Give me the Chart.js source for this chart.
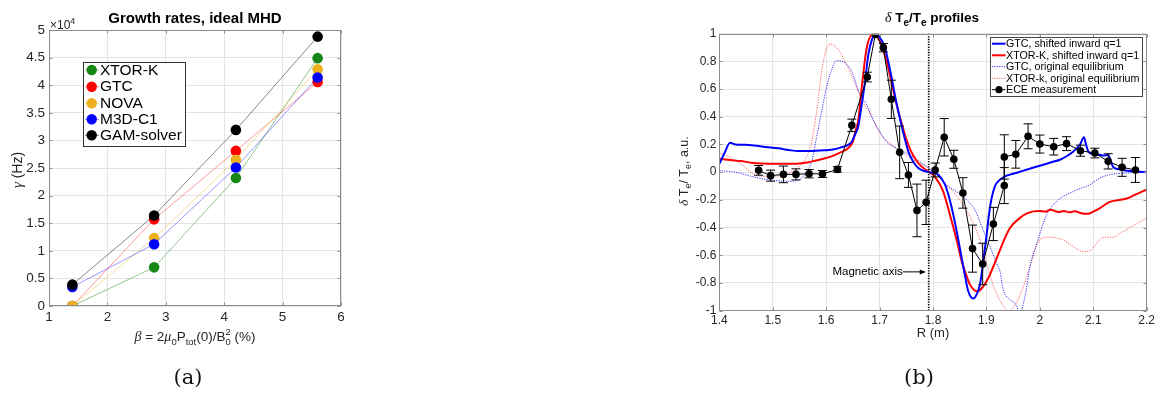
<!DOCTYPE html>
<html>
<head>
<meta charset="utf-8">
<script src="https://cdn.jsdelivr.net/npm/chart.js@4/dist/chart.umd.min.js"></script>
<style>
html,body{margin:0;padding:0;background:#fff;overflow:hidden;width:1169px;height:393px;}
canvas{position:absolute;top:0;}
#cl{left:0;}
#cr{left:640px;}
.cap{position:absolute;font-family:"DejaVu Serif","Liberation Serif",serif;font-size:21px;color:#111;transform:translate(-50%,-50%);white-space:nowrap;}
</style>
</head>
<body>
<canvas id="cl" width="420" height="393"></canvas>
<canvas id="cr" width="529" height="393"></canvas>
<div class="cap" style="left:188px;top:377px;">(a)</div>
<div class="cap" style="left:919px;top:377px;">(b)</div>
<script>
// ---------------- Panel (a) data ----------------
const betaPct = [1.4, 2.8, 4.2, 5.6];
const gammaXtorK = [0, 7000, 23200, 44900];
const gammaGtc = [0, 15700, 28100, 40600];
const gammaNova = [0, 12300, 26500, 42900];
const gammaM3dc1 = [3450, 11200, 25100, 41400];
const gammaGam = [3870, 16400, 31900, 48800];
const codeNames = ['XTOR-K', 'GTC', 'NOVA', 'M3D-C1', 'GAM-solver'];
const gammaYTicks = [0, 5000, 10000, 15000, 20000, 25000, 30000, 35000, 40000, 45000, 50000];
const betaXTicks = [1, 2, 3, 4, 5, 6];

// ---------------- Panel (b) data ----------------
const gtcShiftR = [1.400,1.410,1.420,1.430,1.448,1.470,1.486,1.510,1.530,1.548,1.570,1.598,1.615,1.629,1.640,1.648,1.655,1.660,1.667,1.673,1.679,1.686,1.6927,1.700,1.710,1.7227,1.730,1.738,1.746,1.7537,1.763,1.7725,1.782,1.791,1.800,1.810,1.8225,1.830,1.838,1.846,1.8537,1.860,1.866,1.8755,1.882,1.888,1.894,1.9005,1.905,1.9098,1.916,1.922,1.935,1.944,1.960,1.975,1.990,2.0065,2.020,2.0377,2.050,2.0627,2.075,2.0826,2.0865,2.0907,2.100,2.1126,2.120,2.128,2.132,2.1375,2.150,2.1626,2.180,2.200];
const gtcShiftV = [0.06,0.14,0.212,0.200,0.198,0.190,0.182,0.172,0.160,0.152,0.152,0.158,0.165,0.18,0.195,0.22,0.28,0.33,0.50,0.66,0.85,0.96,0.995,0.975,0.896,0.68,0.53,0.39,0.26,0.15,0.075,0.03,0.01,0.001,-0.005,-0.018,-0.09,-0.18,-0.307,-0.46,-0.62,-0.75,-0.86,-0.913,-0.88,-0.81,-0.65,-0.45,-0.30,-0.187,-0.10,-0.066,-0.03,-0.018,0.00,0.018,0.035,0.054,0.07,0.09,0.115,0.15,0.198,0.252,0.2,0.15,0.13,0.125,0.12,0.125,0.09,0.035,0.02,0.011,0.005,0.0];

const xtorShiftR = [1.400,1.420,1.440,1.460,1.480,1.500,1.520,1.550,1.565,1.579,1.595,1.610,1.625,1.6415,1.650,1.655,1.660,1.6665,1.6758,1.6864,1.6930,1.7008,1.7085,1.7163,1.725,1.735,1.745,1.7537,1.763,1.7725,1.782,1.791,1.800,1.810,1.819,1.827,1.835,1.845,1.8537,1.862,1.869,1.877,1.8836,1.893,1.9035,1.912,1.922,1.9348,1.944,1.9629,1.975,1.9878,2.000,2.010,2.020,2.035,2.045,2.055,2.065,2.080,2.090,2.100,2.1126,2.131,2.1626,2.180,2.200];
const xtorShiftV = [0.097,0.088,0.080,0.068,0.062,0.060,0.060,0.063,0.070,0.083,0.097,0.114,0.14,0.174,0.22,0.30,0.37,0.608,0.896,0.99,0.985,0.944,0.86,0.752,0.60,0.44,0.30,0.198,0.12,0.066,0.03,0.006,-0.018,-0.07,-0.138,-0.24,-0.355,-0.50,-0.644,-0.74,-0.81,-0.85,-0.86,-0.83,-0.764,-0.69,-0.595,-0.475,-0.403,-0.33,-0.30,-0.283,-0.28,-0.285,-0.272,-0.288,-0.28,-0.29,-0.283,-0.298,-0.30,-0.285,-0.259,-0.215,-0.19,-0.16,-0.126];

const gtcOrigR = [1.400,1.429,1.4668,1.504,1.5355,1.554,1.565,1.573,1.582,1.5916,1.600,1.6072,1.6197,1.6353,1.6478,1.6633,1.676,1.688,1.7008,1.713,1.732,1.751,1.769,1.788,1.804,1.8256,1.844,1.863,1.8786,1.891,1.907,1.919,1.9254,1.9317,1.944,1.9535,1.963,1.972,1.9816,1.994,2.0128,2.0316,2.0627,2.0939,2.1126,2.131,2.1626,2.200];
const gtcOrigV = [0.011,0.001,-0.037,-0.06,-0.066,-0.042,0.01,0.078,0.25,0.44,0.60,0.704,0.805,0.788,0.728,0.56,0.485,0.377,0.292,0.22,0.172,0.136,0.093,0.04,-0.008,-0.093,-0.14,-0.2,-0.273,-0.39,-0.54,-0.66,-0.716,-0.85,-0.92,-0.947,-1.01,-0.9,-0.68,-0.52,-0.307,-0.21,-0.139,-0.09,-0.042,-0.018,-0.006,0.0];

const xtorOrigR = [1.400,1.4168,1.442,1.467,1.4917,1.5167,1.5417,1.5604,1.573,1.5823,1.5916,1.601,1.609,1.6228,1.6415,1.660,1.6695,1.682,1.7008,1.7195,1.744,1.763,1.788,1.807,1.8256,1.850,1.869,1.888,1.900,1.916,1.9286,1.941,1.9535,1.969,1.9816,1.994,2.0034,2.019,2.044,2.0627,2.0814,2.094,2.1064,2.119,2.1376,2.150,2.165,2.180,2.200];
const xtorOrigV = [0.138,0.114,0.054,-0.018,-0.03,-0.023,0.018,0.09,0.222,0.44,0.728,0.896,0.925,0.884,0.752,0.584,0.50,0.425,0.28,0.208,0.136,0.088,0.04,-0.02,-0.093,-0.2,-0.32,-0.49,-0.658,-0.85,-0.947,-1.0,-0.96,-0.827,-0.68,-0.526,-0.478,-0.47,-0.49,-0.538,-0.574,-0.567,-0.514,-0.47,-0.47,-0.44,-0.41,-0.375,-0.33];

const eceR = [1.4736,1.496,1.520,1.5435,1.568,1.593,1.621,1.648,1.677,1.692,1.707,1.722,1.7376,1.754,1.770,1.787,1.804,1.821,1.839,1.856,1.874,1.893,1.913,1.9335,1.9335,1.955,1.978,2.000,2.026,2.050,2.076,2.103,2.128,2.154,2.179];
const eceV = [0.013,-0.025,-0.016,-0.016,-0.011,-0.013,0.02,0.338,0.687,0.995,0.899,0.526,0.143,-0.02,-0.276,-0.218,0.016,0.252,0.093,-0.15,-0.552,-0.663,-0.374,-0.097,0.11,0.129,0.259,0.203,0.184,0.206,0.155,0.138,0.078,0.035,0.016];
const eceErr = [0.035,0.04,0.06,0.04,0.03,0.025,0.02,0.045,0.035,0.0,0.03,0.138,0.19,0.09,0.19,0.16,0.05,0.135,0.065,0.11,0.17,0.15,0.12,0.13,0.16,0.1,0.09,0.065,0.06,0.05,0.04,0.035,0.055,0.065,0.09];
const profileNames = ['GTC, shifted inward q=1', 'XTOR-K, shifted inward q=1', 'GTC, original equilibrium', 'XTOR-k, original equilibrium', 'ECE measurement'];
const rXTicks = [1.4,1.5,1.6,1.7,1.8,1.9,2.0,2.1,2.2];
const dTYTicks = [-1,-0.8,-0.6,-0.4,-0.2,0,0.2,0.4,0.6,0.8,1];
const magAxisR = 1.792;

// ---------------- helpers ----------------
const SANS = '"Liberation Sans", Arial, Helvetica, sans-serif';
const SERIF = '"Liberation Serif", "DejaVu Serif", serif';
const TXT = '#262626';
const AXC = '#8c8c8c';
const GRIDC = '#e4e4e4';

function rich(ctx, segs, x, y, rot, align) {
  ctx.save();
  ctx.translate(x, y);
  if (rot) ctx.rotate(rot);
  let w = 0;
  for (const s of segs) { ctx.font = s.f; s._w = ctx.measureText(s.t).width; if (!s.stack) w += s._w; }
  let cx = align === 'left' ? 0 : -w / 2;
  ctx.textBaseline = 'alphabetic';
  ctx.textAlign = 'left';
  for (const s of segs) {
    ctx.font = s.f; ctx.fillStyle = s.c || TXT;
    ctx.fillText(s.t, cx, s.dy || 0);
    if (!s.stack) cx += s._w;
  }
  ctx.restore();
}

function drawBoxAndTicks(chart, len) {
  const ctx = chart.ctx, ca = chart.chartArea;
  const xs = chart.scales.x, ys = chart.scales.y;
  ctx.save();
  ctx.strokeStyle = AXC; ctx.lineWidth = 1;
  const L = Math.round(ca.left) + 0.5, R = Math.round(ca.right) - 0.5;
  const T = Math.round(ca.top) + 0.5, B = Math.round(ca.bottom) - 0.5;
  ctx.strokeRect(L, T, R - L, B - T);
  ctx.beginPath();
  for (const t of xs.ticks) {
    const p = Math.round(xs.getPixelForValue(t.value)) + 0.5;
    ctx.moveTo(p, B); ctx.lineTo(p, B - len);
    ctx.moveTo(p, T); ctx.lineTo(p, T + len);
  }
  for (const t of ys.ticks) {
    const p = Math.round(ys.getPixelForValue(t.value)) + 0.5;
    ctx.moveTo(L, p); ctx.lineTo(L + len, p);
    ctx.moveTo(R, p); ctx.lineTo(R - len, p);
  }
  ctx.stroke();
  ctx.restore();
}

// ---------------- Panel (a) ----------------
const leftColors = ['rgb(22,135,22)', 'rgb(255,0,0)', 'rgb(237,177,32)', 'rgb(0,0,255)', 'rgb(0,0,0)'];
const leftLineColors = ['rgba(22,135,22,0.6)', 'rgba(255,0,0,0.5)', 'rgba(237,177,32,0.55)', 'rgba(0,0,255,0.5)', 'rgba(0,0,0,0.6)'];
const leftVals = [gammaXtorK, gammaGtc, gammaNova, gammaM3dc1, gammaGam];

const leftDecor = {
  id: 'leftDecor',
  afterDraw(chart) {
    const ctx = chart.ctx;
    drawBoxAndTicks(chart, 3);
    // title
    ctx.save();
    ctx.fillStyle = '#000'; ctx.font = 'bold 15px ' + SANS;
    ctx.textAlign = 'center'; ctx.textBaseline = 'alphabetic';
    ctx.fillText('Growth rates, ideal MHD', 195, 22.7);
    ctx.restore();
    // exponent
    rich(ctx, [{t: '\u00d710', f: '12px ' + SANS}, {t: '4', f: '9px ' + SANS, dy: -5}], 50, 28.5, 0, 'left');
    // y label
    rich(ctx, [{t: '\u03b3', f: 'italic 15px ' + SERIF}, {t: ' (Hz)', f: '14px ' + SANS}], 22, 170, -Math.PI / 2);
    // x label
    const m = '13.5px ' + SANS, s = '9.5px ' + SANS;
    rich(ctx, [
      {t: '\u03b2', f: 'italic 14px ' + SERIF}, {t: ' = 2', f: m}, {t: '\u03bc', f: 'italic 14px ' + SERIF},
      {t: '0', f: s, dy: 4}, {t: 'P', f: m}, {t: 'tot', f: s, dy: 4}, {t: '(0)/B', f: m},
      {t: '2', f: s, dy: -6, stack: true}, {t: '0', f: s, dy: 4}, {t: ' (%)', f: m}
    ], 195, 340.5, 0);
    // legend
    ctx.save();
    ctx.fillStyle = '#fff'; ctx.strokeStyle = '#333'; ctx.lineWidth = 1;
    ctx.fillRect(83.5, 62.5, 102, 84); ctx.strokeRect(83.5, 62.5, 102, 84);
    const rows = [70, 86.7, 103.3, 119.3, 135.3];
    codeNames.forEach((n, i) => {
      const y = rows[i];
      ctx.strokeStyle = leftLineColors[i]; ctx.lineWidth = 0.8;
      ctx.beginPath(); ctx.moveTo(85, y); ctx.lineTo(99, y); ctx.stroke();
      ctx.fillStyle = leftColors[i];
      ctx.beginPath(); ctx.arc(91.7, y, 5.2, 0, Math.PI * 2); ctx.fill();
      ctx.fillStyle = '#000'; ctx.font = '15.5px ' + SANS; ctx.textAlign = 'left'; ctx.textBaseline = 'middle';
      ctx.fillText(n, 100, y + 0.5);
    });
    ctx.restore();
  }
};

new Chart(document.getElementById('cl'), {
  type: 'line',
  data: {
    datasets: codeNames.map((n, i) => ({
      label: n,
      data: betaPct.map((b, k) => ({x: b, y: leftVals[i][k]})),
      borderColor: leftLineColors[i],
      backgroundColor: leftColors[i],
      pointBackgroundColor: leftColors[i],
      pointBorderColor: leftColors[i],
      pointRadius: 5.3,
      pointBorderWidth: 0,
      borderWidth: 0.8,
      tension: 0,
      order: codeNames.length - i
    }))
  },
  options: {
    responsive: false, animation: false, devicePixelRatio: 1,
    layout: {padding: {left: 0, top: 30, right: 79, bottom: 0}},
    plugins: {legend: {display: false}, title: {display: false}, tooltip: {enabled: false}},
    scales: {
      x: {
        type: 'linear', min: 1, max: 6,
        afterBuildTicks: sc => { sc.ticks = betaXTicks.map(v => ({value: v})); },
        afterFit: sc => { sc.height = 87; },
        grid: {color: GRIDC, drawTicks: false, lineWidth: 1},
        border: {display: false},
        ticks: {padding: 3, color: TXT, font: {family: SANS, size: 13.5}, maxRotation: 0, autoSkip: false,
          callback: v => String(v)}
      },
      y: {
        type: 'linear', min: 0, max: 50000,
        afterBuildTicks: sc => { sc.ticks = gammaYTicks.map(v => ({value: v})); },
        afterFit: sc => { sc.width = 49; },
        grid: {color: GRIDC, drawTicks: false, lineWidth: 1},
        border: {display: false},
        ticks: {padding: 4, color: TXT, font: {family: SANS, size: 13.5}, autoSkip: false,
          callback: v => String(Math.round(v / 1000) / 10)}
      }
    }
  },
  plugins: [leftDecor]
});

// ---------------- Panel (b) ----------------
const rightDecor = {
  id: 'rightDecor',
  afterDatasetsDraw(chart) {
    const ctx = chart.ctx, xs = chart.scales.x, ys = chart.scales.y, ca = chart.chartArea;
    ctx.save();
    // error bars
    ctx.strokeStyle = '#000'; ctx.lineWidth = 1;
    ctx.beginPath();
    eceR.forEach((r, i) => {
      if (!eceErr[i]) return;
      const px = xs.getPixelForValue(r);
      const y1 = ys.getPixelForValue(eceV[i] - eceErr[i]);
      const y2 = ys.getPixelForValue(eceV[i] + eceErr[i]);
      ctx.moveTo(px, y1); ctx.lineTo(px, y2);
      ctx.moveTo(px - 4.5, y1); ctx.lineTo(px + 4.5, y1);
      ctx.moveTo(px - 4.5, y2); ctx.lineTo(px + 4.5, y2);
    });
    ctx.stroke();
    // magnetic axis
    const mx = xs.getPixelForValue(magAxisR);
    ctx.setLineDash([1.3, 1.3]); ctx.lineWidth = 1.7;
    ctx.beginPath(); ctx.moveTo(mx, ca.top); ctx.lineTo(mx, ca.bottom); ctx.stroke();
    ctx.setLineDash([]);
    // annotation arrow
    const ay = ys.getPixelForValue(-0.72);
    ctx.lineWidth = 1;
    ctx.beginPath(); ctx.moveTo(mx - 26, ay); ctx.lineTo(mx - 4, ay); ctx.stroke();
    ctx.beginPath(); ctx.moveTo(mx - 3, ay); ctx.lineTo(mx - 9, ay - 2.5); ctx.lineTo(mx - 9, ay + 2.5); ctx.closePath();
    ctx.fillStyle = '#000'; ctx.fill();
    ctx.font = '11.5px ' + SANS; ctx.textAlign = 'right'; ctx.textBaseline = 'middle';
    ctx.fillText('Magnetic axis', mx - 26, ay);
    ctx.restore();
  },
  afterDraw(chart) {
    const ctx = chart.ctx;
    drawBoxAndTicks(chart, 3);
    // title
    const b = 'bold 13.5px ' + SANS, bs = 'bold 10px ' + SANS;
    rich(ctx, [
      {t: '\u03b4', f: 'italic 14px ' + SERIF, c: '#000'}, {t: ' T', f: b, c: '#000'}, {t: 'e', f: bs, dy: 4, c: '#000'},
      {t: '/T', f: b, c: '#000'}, {t: 'e', f: bs, dy: 4, c: '#000'}, {t: ' profiles', f: b, c: '#000'}
    ], 292, 22.3, 0);
    // y label
    const m = '12.5px ' + SANS, s = '9px ' + SANS;
    rich(ctx, [
      {t: '\u03b4', f: 'italic 13px ' + SERIF}, {t: ' T', f: m}, {t: 'e', f: s, dy: 3},
      {t: '/ T', f: m}, {t: 'e', f: s, dy: 3}, {t: ', a.u.', f: m}
    ], 48, 171, -Math.PI / 2);
    // x label
    ctx.save();
    ctx.fillStyle = TXT; ctx.font = '13px ' + SANS; ctx.textAlign = 'center'; ctx.textBaseline = 'alphabetic';
    ctx.fillText('R (m)', 293, 336.5);
    ctx.restore();
    // legend
    ctx.save();
    ctx.fillStyle = '#fff'; ctx.strokeStyle = '#444'; ctx.lineWidth = 1;
    ctx.fillRect(350.5, 37.5, 152, 59); ctx.strokeRect(350.5, 37.5, 152, 59);
    const rows = [43.7, 55.3, 66.7, 78.3, 89.7];
    const sty = [
      {c: 'rgb(0,0,255)', w: 2, d: []}, {c: 'rgb(255,0,0)', w: 2, d: []},
      {c: 'rgba(0,0,255,0.8)', w: 1, d: [1.2, 1.2]}, {c: 'rgba(255,0,0,0.6)', w: 1, d: [1.2, 1.2]},
      {c: '#000', w: 1, d: []}
    ];
    profileNames.forEach((n, i) => {
      const y = rows[i];
      ctx.strokeStyle = sty[i].c; ctx.lineWidth = sty[i].w; ctx.setLineDash(sty[i].d);
      ctx.beginPath(); ctx.moveTo(352, y); ctx.lineTo(365.5, y); ctx.stroke();
      ctx.setLineDash([]);
      if (i === 4) { ctx.fillStyle = '#000'; ctx.beginPath(); ctx.arc(359, y, 3.6, 0, Math.PI * 2); ctx.fill(); }
      ctx.fillStyle = '#000'; ctx.font = '10.7px ' + SANS; ctx.textAlign = 'left'; ctx.textBaseline = 'middle';
      ctx.fillText(n, 366, y + 0.5);
    });
    ctx.restore();
  }
};

function xy(rs, vs) { return rs.map((r, i) => ({x: r, y: vs[i]})); }

new Chart(document.getElementById('cr'), {
  type: 'line',
  data: {
    datasets: [
      {label: profileNames[3], data: xy(xtorOrigR, xtorOrigV), borderColor: 'rgba(255,0,0,0.6)', borderWidth: 1, borderDash: [1.2, 1.2], pointRadius: 0, cubicInterpolationMode: 'monotone', order: 5},
      {label: profileNames[2], data: xy(gtcOrigR, gtcOrigV), borderColor: 'rgba(0,0,255,0.8)', borderWidth: 1, borderDash: [1.2, 1.2], pointRadius: 0, cubicInterpolationMode: 'monotone', order: 4},
      {label: profileNames[1], data: xy(xtorShiftR, xtorShiftV), borderColor: 'rgb(255,0,0)', borderWidth: 2, pointRadius: 0, cubicInterpolationMode: 'monotone', order: 3},
      {label: profileNames[0], data: xy(gtcShiftR, gtcShiftV), borderColor: 'rgb(0,0,255)', borderWidth: 2, pointRadius: 0, cubicInterpolationMode: 'monotone', order: 2},
      {label: profileNames[4], data: xy(eceR, eceV), borderColor: '#000', borderWidth: 1, pointRadius: 3.8, pointBorderWidth: 0, pointBackgroundColor: '#000', backgroundColor: '#000', tension: 0, order: 1}
    ]
  },
  options: {
    responsive: false, animation: false, devicePixelRatio: 1,
    layout: {padding: {left: 0, top: 33.67, right: 22.33, bottom: 0}},
    plugins: {legend: {display: false}, title: {display: false}, tooltip: {enabled: false}},
    scales: {
      x: {
        type: 'linear', min: 1.4, max: 2.2,
        afterBuildTicks: sc => { sc.ticks = rXTicks.map(v => ({value: v})); },
        afterFit: sc => { sc.height = 82.33; },
        grid: {color: GRIDC, drawTicks: false, lineWidth: 1},
        border: {display: false},
        ticks: {padding: 2.5, color: TXT, font: {family: SANS, size: 12}, maxRotation: 0, autoSkip: false,
          callback: v => String(Math.round(v * 10) / 10)}
      },
      y: {
        type: 'linear', min: -1, max: 1,
        afterBuildTicks: sc => { sc.ticks = dTYTicks.map(v => ({value: v})); },
        afterFit: sc => { sc.width = 79.33; },
        grid: {color: GRIDC, drawTicks: false, lineWidth: 1},
        border: {display: false},
        ticks: {padding: 3, color: TXT, font: {family: SANS, size: 12}, autoSkip: false,
          callback: v => String(Math.round(v * 10) / 10)}
      }
    }
  },
  plugins: [rightDecor]
});
</script>
</body>
</html>
